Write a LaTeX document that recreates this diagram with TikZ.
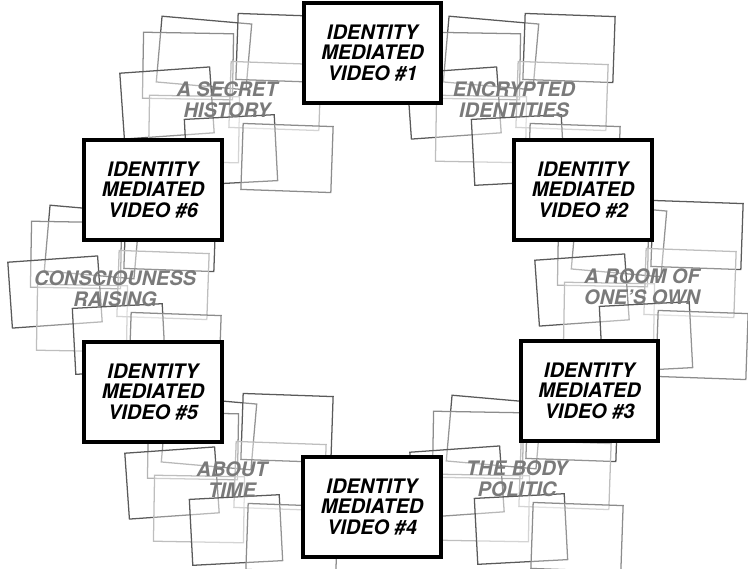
\documentclass[tikz,border=0pt]{standalone}
\usepackage{fontspec}
\usepackage{tikz}
\newfontfamily\heros{TeX Gyre Heros}
\definecolor{tiledark}{HTML}{5A5A5A}
\definecolor{tilemid}{HTML}{8C8C8C}
\definecolor{tilelight}{HTML}{BEBEBE}
\definecolor{labgray}{HTML}{7A7A7A}
\tikzset{
  tile/.style={line width=0.9pt, fill=white, fill opacity=0.35},
  vidbox/.style={draw=black, line width=0.1cm, fill=white, align=center,
    minimum width=3.425cm, minimum height=2.5cm, inner sep=0pt,
    font=\heros\bfseries\itshape\fontsize{14.2}{14.4}\selectfont},
  lab/.style={text=labgray, align=center, inner sep=0pt,
    font=\heros\bfseries\itshape\fontsize{14.2}{15}\selectfont},
}
\begin{document}
\begin{tikzpicture}[x=0.025cm, y=-0.025cm]
  \useasboundingbox (0,0) rectangle (748,568);

  % stacks of loose frames round each title
  \foreach \lx/\ly in {227/100, 514/100, 642/287, 517/479, 232/480, 115/289} {
    \foreach \dx/\dy/\a/\c in {-23/-47/-5/tiledark, -39/-34/-1/tilemid,
        -60/3/4/tiledark, -33/29/-1/tilelight, 55/-52/-2/tiledark,
        48/-4/-2/tilelight, 4/50/3/tiledark, 60/58/-2/tilemid} {
      \draw[tile, draw=\c, shift={({\lx+\dx},{\ly+\dy})}, rotate=\a]
        (-45,-33) rectangle (45,33);
    }
  }

  % the six videos
  \node[vidbox] (v1) at (372.5,53) {IDENTITY\\MEDIATED\\VIDEO \#1};
  \node[vidbox] (v2) at (583,190) {IDENTITY\\MEDIATED\\VIDEO \#2};
  \node[vidbox] (v3) at (589.5,391) {IDENTITY\\MEDIATED\\VIDEO \#3};
  \node[vidbox] (v4) at (372,507) {IDENTITY\\MEDIATED\\VIDEO \#4};
  \node[vidbox] (v5) at (153,392) {IDENTITY\\MEDIATED\\VIDEO \#5};
  \node[vidbox] (v6) at (153,190) {IDENTITY\\MEDIATED\\VIDEO \#6};

  % titles between them
  \node[lab] (secret) at (227,100) {A SECRET\\HISTORY};
  \node[lab] (crypt) at (514,100) {ENCRYPTED\\IDENTITIES};
  \node[lab] (room) at (642,287) {A ROOM OF\\ONE’S OWN};
  \node[lab] (body) at (517,479) {THE BODY\\POLITIC};
  \node[lab] (time) at (232,480) {ABOUT\\TIME};
  \node[lab] (raise) at (115,289) {CONSCIOUNESS\\RAISING};
\end{tikzpicture}
\end{document}
